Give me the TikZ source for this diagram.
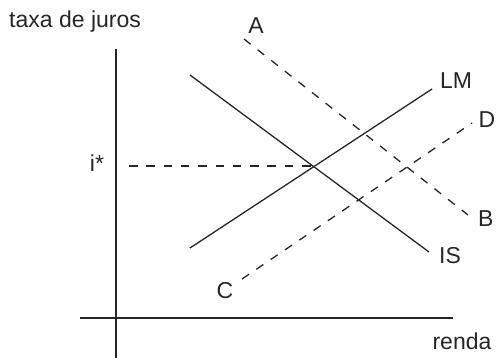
\documentclass[tikz,border=0pt]{standalone}
\usepackage{fontspec}
\setmainfont{Liberation Sans}
\begin{document}
\begin{tikzpicture}[x=1pt,y=-1pt,
  ln/.style={line width=1.3pt,color=black!85},
  dsh/.style={ln,dash pattern=on 8.5pt off 8.8pt},
  lbl/.style={inner sep=0pt,font=\fontsize{23}{25}\selectfont,text=black!85}]
\useasboundingbox (0,0) rectangle (496,358);
% axes
\coordinate (ytop) at (116,49);
\coordinate (ybot) at (116,358);
\coordinate (xl) at (80,318);
\coordinate (xr) at (453,318);
\draw[ln] (ytop) -- (ybot);
\draw[ln] (xl) -- (xr);
% IS and LM
\coordinate (is1) at (190,75);
\coordinate (is2) at (429,252);
\coordinate (lm1) at (190,248);
\coordinate (lm2) at (432,89);
\draw[ln] (is1) -- (is2);
\draw[ln] (lm1) -- (lm2);
% dashed lines
\coordinate (a1) at (244,39);
\coordinate (b1) at (468,215);
\coordinate (c1) at (242,279);
\coordinate (d1) at (472,123);
\coordinate (i0) at (129,166);
\coordinate (eq) at (313,166);
\draw[dsh] (a1) -- (b1);
\draw[dsh] (c1) -- (d1);
\draw[dsh] (i0) -- (eq);
% labels
\node[lbl,anchor=base west] (ty) at (9,28) {taxa de juros};
\node[lbl] (A) at (256,26) {A};
\node[lbl] (LM) at (456,81) {LM};
\node[lbl,anchor=west] (D) at (478.5,120) {D};
\node[lbl,anchor=west] (B) at (478,219) {B};
\node[lbl] (IS) at (450,256) {IS};
\node[lbl] (C) at (225,291) {C};
\node[lbl,anchor=base] (r) at (462,350) {renda};
\node[lbl,anchor=base] (ist) at (97,172) {i*};
\end{tikzpicture}
\end{document}
